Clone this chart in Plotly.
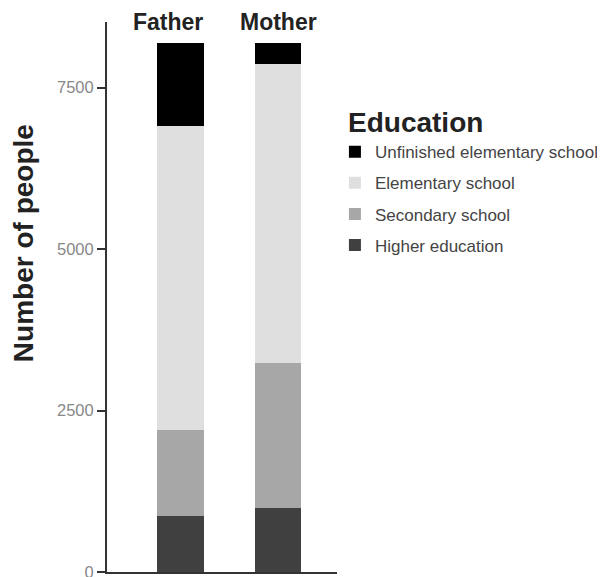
import plotly.graph_objects as go

parents = ["Father", "Mother"]
levels = ["Higher education", "Secondary school", "Elementary school", "Unfinished elementary school"]
higher = [872, 986]
secondary = [1326, 2254]
elementary = [4706, 4619]
unfinished = [1280, 325]
colors = ["#404040", "#a7a7a7", "#dfdfdf", "#000000"]
y_ticks = [0, 2500, 5000, 7500]
legend_title = "Education"

series = [higher, secondary, elementary, unfinished]
FONT = "Liberation Sans, Arial, sans-serif"

fig = go.Figure()
for k, (name, vals, col) in enumerate(zip(levels, series, colors)):
    fig.add_trace(go.Bar(
        x=[0, 1], y=vals, name=name, legendgroup=name,
        legendrank=1000 - k,
        marker=dict(color=col, line=dict(width=0)),
        width=0.48,
    ))

fig.update_layout(
    barmode="stack",
    width=597, height=569,
    margin=dict(l=99, r=268, t=14, b=5, autoexpand=False),
    plot_bgcolor="white", paper_bgcolor="white",
    font=dict(family=FONT),
    showlegend=True,
    legend=dict(
        x=0.991, y=0.796, xanchor="left", yanchor="top",
        traceorder="grouped", tracegroupgap=6,
        font=dict(size=17, color="#444444", family=FONT),
        bgcolor="rgba(0,0,0,0)",
    ),
    xaxis=dict(
        range=[-0.754, 1.605], showline=True, linecolor="#333333", linewidth=2,
        showticklabels=False, ticks="", showgrid=False, zeroline=False, fixedrange=True,
    ),
    yaxis=dict(
        range=[0, 8514], showline=True, linecolor="#333333", linewidth=2,
        ticks="outside", ticklen=8, tickwidth=2, tickcolor="#333333",
        tickvals=y_ticks, ticktext=[str(v) for v in y_ticks],
        tickfont=dict(size=16.5, color="#888888", family=FONT),
        ticklabeloverflow="allow",
        showgrid=False, zeroline=False,
    ),
)

fig.add_annotation(
    x=1.039, xref="paper", y=0.8165, yref="paper", xanchor="left", yanchor="middle",
    text=f"<b>{legend_title}</b>", showarrow=False,
    font=dict(size=28, color="#222222", family=FONT),
)

shifts = [-13, 0]
for i, (p, s) in enumerate(zip(parents, shifts)):
    fig.add_annotation(
        x=i, xref="x", y=1, yref="paper", yanchor="middle", xanchor="center",
        xshift=s, text=f"<b>{p}</b>", showarrow=False,
        font=dict(size=23, color="#222222", family=FONT),
    )

fig.add_annotation(
    x=-0.365, xref="paper", y=0.598, yref="paper", xanchor="center", yanchor="middle",
    text="<b>Number of people</b>", textangle=-90, showarrow=False,
    font=dict(size=28, color="#222222", family=FONT),
)

fig.write_html("out.html")
